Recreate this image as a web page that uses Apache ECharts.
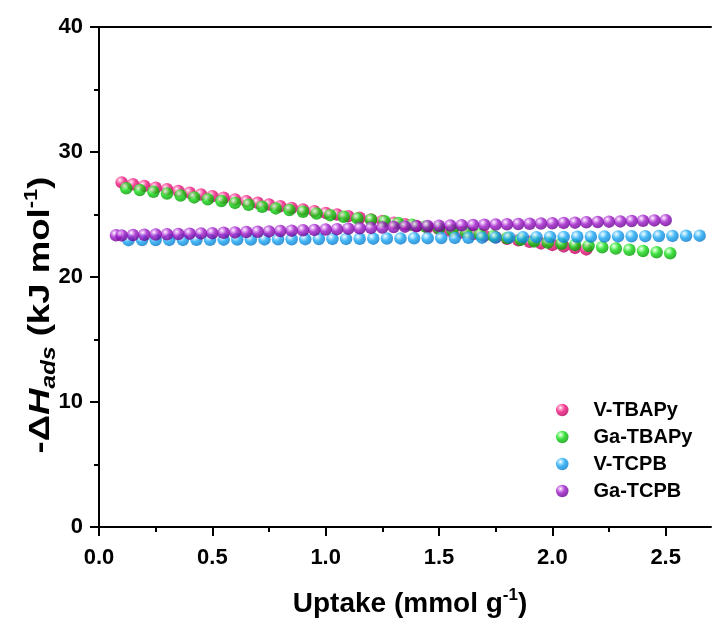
<!DOCTYPE html>
<html>
<head>
<meta charset="utf-8">
<script src="https://cdn.jsdelivr.net/npm/echarts@6/dist/echarts.min.js"></script>
<style>
  html, body { margin: 0; padding: 0; background: #ffffff; }
  #chart { width: 712px; height: 623px; }
</style>
</head>
<body>
<div id="chart"></div>
<script>
// Isosteric heat of adsorption vs. uptake for four frameworks
const seriesNames = ['V-TBAPy', 'Ga-TBAPy', 'V-TCPB', 'Ga-TCPB'];

const vTbapyX = [0.10, 0.15, 0.20, 0.25, 0.30, 0.35, 0.40, 0.45, 0.50, 0.55, 0.60, 0.65, 0.70, 0.75,
  0.80, 0.85, 0.90, 0.95, 1.00, 1.05, 1.10, 1.15, 1.20, 1.25, 1.30, 1.35, 1.40, 1.45, 1.50, 1.55,
  1.60, 1.65, 1.70, 1.75, 1.80, 1.85, 1.90, 1.95, 2.00, 2.05, 2.10, 2.15];
const vTbapyY = [27.57, 27.42, 27.29, 27.15, 27.02, 26.88, 26.75, 26.61, 26.47, 26.34, 26.21, 26.07,
  25.94, 25.80, 25.67, 25.53, 25.40, 25.27, 25.13, 25.00, 24.87, 24.74, 24.61, 24.48, 24.35, 24.22,
  24.09, 23.96, 23.83, 23.70, 23.57, 23.44, 23.31, 23.18, 23.06, 22.94, 22.82, 22.69, 22.57, 22.45,
  22.33, 22.21];

const gaTbapyX = [0.12, 0.18, 0.24, 0.30, 0.36, 0.42, 0.48, 0.54, 0.60, 0.66, 0.72, 0.78, 0.84, 0.90,
  0.96, 1.02, 1.08, 1.14, 1.20, 1.26, 1.32, 1.38, 1.44, 1.50, 1.56, 1.62, 1.68, 1.74, 1.80, 1.86,
  1.92, 1.98, 2.04, 2.10, 2.16, 2.22, 2.28, 2.34, 2.40, 2.46, 2.52];
const gaTbapyY = [27.10, 26.96, 26.82, 26.68, 26.52, 26.37, 26.22, 26.08, 25.93, 25.78, 25.62, 25.49,
  25.36, 25.22, 25.08, 24.95, 24.82, 24.69, 24.58, 24.46, 24.32, 24.18, 24.04, 23.90, 23.74, 23.58,
  23.42, 23.27, 23.12, 22.98, 22.85, 22.75, 22.66, 22.57, 22.48, 22.38, 22.28, 22.18, 22.08, 21.98,
  21.90];

const vTcpbX = [0.13, 0.19, 0.25, 0.31, 0.37, 0.43, 0.49, 0.55, 0.61, 0.67, 0.73, 0.79, 0.85, 0.91,
  0.97, 1.03, 1.09, 1.15, 1.21, 1.27, 1.33, 1.39, 1.45, 1.51, 1.57, 1.63, 1.69, 1.75, 1.81, 1.87,
  1.93, 1.99, 2.05, 2.11, 2.17, 2.23, 2.29, 2.35, 2.41, 2.47, 2.53, 2.59, 2.65];
const vTcpbY = [22.95, 22.96, 22.96, 22.97, 22.97, 22.98, 22.98, 22.99, 23.00, 23.00, 23.01, 23.02,
  23.02, 23.03, 23.04, 23.05, 23.05, 23.06, 23.07, 23.08, 23.09, 23.10, 23.11, 23.12, 23.13, 23.14,
  23.15, 23.16, 23.17, 23.18, 23.19, 23.20, 23.21, 23.22, 23.23, 23.24, 23.25, 23.26, 23.27, 23.28,
  23.29, 23.30, 23.31];

const gaTcpbX = [0.075, 0.10, 0.15, 0.20, 0.25, 0.30, 0.35, 0.40, 0.45, 0.50, 0.55, 0.60, 0.65, 0.70,
  0.75, 0.80, 0.85, 0.90, 0.95, 1.00, 1.05, 1.10, 1.15, 1.20, 1.25, 1.30, 1.35, 1.40, 1.45, 1.50,
  1.55, 1.60, 1.65, 1.70, 1.75, 1.80, 1.85, 1.90, 1.95, 2.00, 2.05, 2.10, 2.15, 2.20, 2.25, 2.30,
  2.35, 2.40, 2.45, 2.50];
const gaTcpbY = [23.34, 23.33, 23.36, 23.38, 23.40, 23.42, 23.44, 23.47, 23.49, 23.51, 23.54, 23.57,
  23.60, 23.62, 23.65, 23.68, 23.71, 23.74, 23.77, 23.80, 23.83, 23.87, 23.90, 23.93, 23.96, 24.00,
  24.03, 24.06, 24.08, 24.10, 24.12, 24.14, 24.16, 24.18, 24.20, 24.22, 24.24, 24.26, 24.28, 24.30,
  24.33, 24.35, 24.38, 24.40, 24.43, 24.45, 24.48, 24.50, 24.53, 24.55];

const xMajorTicks = [0, 0.5, 1.0, 1.5, 2.0, 2.5];
const xMinorTicks = [0.25, 0.75, 1.25, 1.75, 2.25];
const yTickValues = [0, 10, 20, 30, 40];

const FONT = '"Liberation Sans", Arial, Helvetica, sans-serif';

// glossy sphere fill: white highlight towards the upper left, darker rim
function sphere(light, base, dark) {
  return {
    type: 'radial', x: 0.36, y: 0.32, r: 0.7,
    colorStops: [
      { offset: 0, color: '#ffffff' },
      { offset: 0.16, color: light },
      { offset: 0.5, color: base },
      { offset: 1, color: dark }
    ]
  };
}

const fills = [
  sphere('#ff9cc8', '#f0147e', '#b8005a'),
  sphere('#9cff9c', '#12d812', '#009a00'),
  sphere('#a8e2ff', '#16a6f4', '#0a78c8'),
  sphere('#e2a4f2', '#9c16c8', '#68008e')
];

const xs = [vTbapyX, gaTbapyX, vTcpbX, gaTcpbX];
const ys = [vTbapyY, gaTbapyY, vTcpbY, gaTcpbY];

const series = seriesNames.map((name, k) => ({
  name: name,
  type: 'scatter',
  symbol: 'circle',
  symbolSize: 12.5,
  xAxisIndex: 0,
  itemStyle: { color: fills[k] },
  data: xs[k].map((x, i) => [x, ys[k][i]]),
  emphasis: { disabled: true }
}));

const chart = echarts.init(document.getElementById('chart'), null, { renderer: 'canvas' });

const black = { color: '#000', width: 2 };
const X_MAX = 2.7;

chart.setOption({
  animation: false,
  backgroundColor: '#ffffff',
  grid: { left: 99, top: 27, right: 1, bottom: 96, containLabel: false },
  xAxis: [{
    // main bottom axis: line, major ticks and labels
    type: 'value', min: 0, max: X_MAX, interval: 0.5, position: 'bottom',
    axisLine: { show: true, onZero: false, lineStyle: black },
    axisTick: { show: true, length: 9, lineStyle: black, customValues: xMajorTicks },
    minorTick: { show: false },
    axisLabel: {
      customValues: xMajorTicks,
      formatter: v => v.toFixed(1),
      color: '#000', fontFamily: FONT, fontWeight: 'bold', fontSize: 22, margin: 20
    },
    splitLine: { show: false }
  }, {
    // top frame line
    type: 'value', min: 0, max: X_MAX, position: 'top',
    axisLine: { show: true, onZero: false, lineStyle: black },
    axisTick: { show: false }, axisLabel: { show: false }, splitLine: { show: false }
  }, {
    // short minor ticks between the labelled ones
    type: 'value', min: 0, max: X_MAX, position: 'bottom', offset: 0,
    axisLine: { show: false, onZero: false },
    axisTick: { show: true, length: 5, lineStyle: black, customValues: xMinorTicks },
    axisLabel: { show: false }, splitLine: { show: false }
  }],
  yAxis: {
    type: 'value', min: 0, max: 40, interval: 10,
    axisLine: { show: true, onZero: false, lineStyle: black },
    axisTick: { show: true, length: 9, lineStyle: black },
    minorTick: { show: true, splitNumber: 2, length: 5, lineStyle: black },
    axisLabel: {
      customValues: yTickValues,
      color: '#000', fontFamily: FONT, fontWeight: 'bold', fontSize: 22, margin: 16
    },
    splitLine: { show: false }
  },
  legend: {
    orient: 'vertical', left: 556, top: 400, padding: 0,
    icon: 'circle', itemWidth: 12.5, itemHeight: 12.5, itemGap: 7,
    selectedMode: false,
    textStyle: {
      color: '#000', fontFamily: FONT, fontWeight: 'bold', fontSize: 20, lineHeight: 20,
      padding: [0, 0, 0, 20]
    },
    data: seriesNames
  },
  graphic: [{
    type: 'text', x: 410, y: 604,
    style: {
      text: 'Uptake (mmol g{sup|-1})',
      fill: '#000', font: 'bold 28px ' + FONT, align: 'center', verticalAlign: 'middle',
      lineHeight: 34,
      rich: { sup: { fontSize: 17, fontWeight: 'bold', fontFamily: FONT, verticalAlign: 'top', lineHeight: 34 } }
    }
  }, {
    type: 'text', x: 41, y: 315, rotation: Math.PI / 2, scaleX: 1.22,
    style: {
      text: '-\u0394{i|H}{sub|ads} (kJ mol{sup|-1})',
      fill: '#000', font: 'bold 30px ' + FONT, align: 'center', verticalAlign: 'middle',
      lineHeight: 36,
      rich: {
        i: { fontSize: 30, fontWeight: 'bold', fontStyle: 'italic', fontFamily: FONT, lineHeight: 36 },
        sub: { fontSize: 20, fontWeight: 'bold', fontStyle: 'italic', fontFamily: FONT, verticalAlign: 'bottom', lineHeight: 36 },
        sup: { fontSize: 18, fontWeight: 'bold', fontFamily: FONT, verticalAlign: 'top', lineHeight: 36 }
      }
    }
  }],
  series: series
});
</script>
</body>
</html>
